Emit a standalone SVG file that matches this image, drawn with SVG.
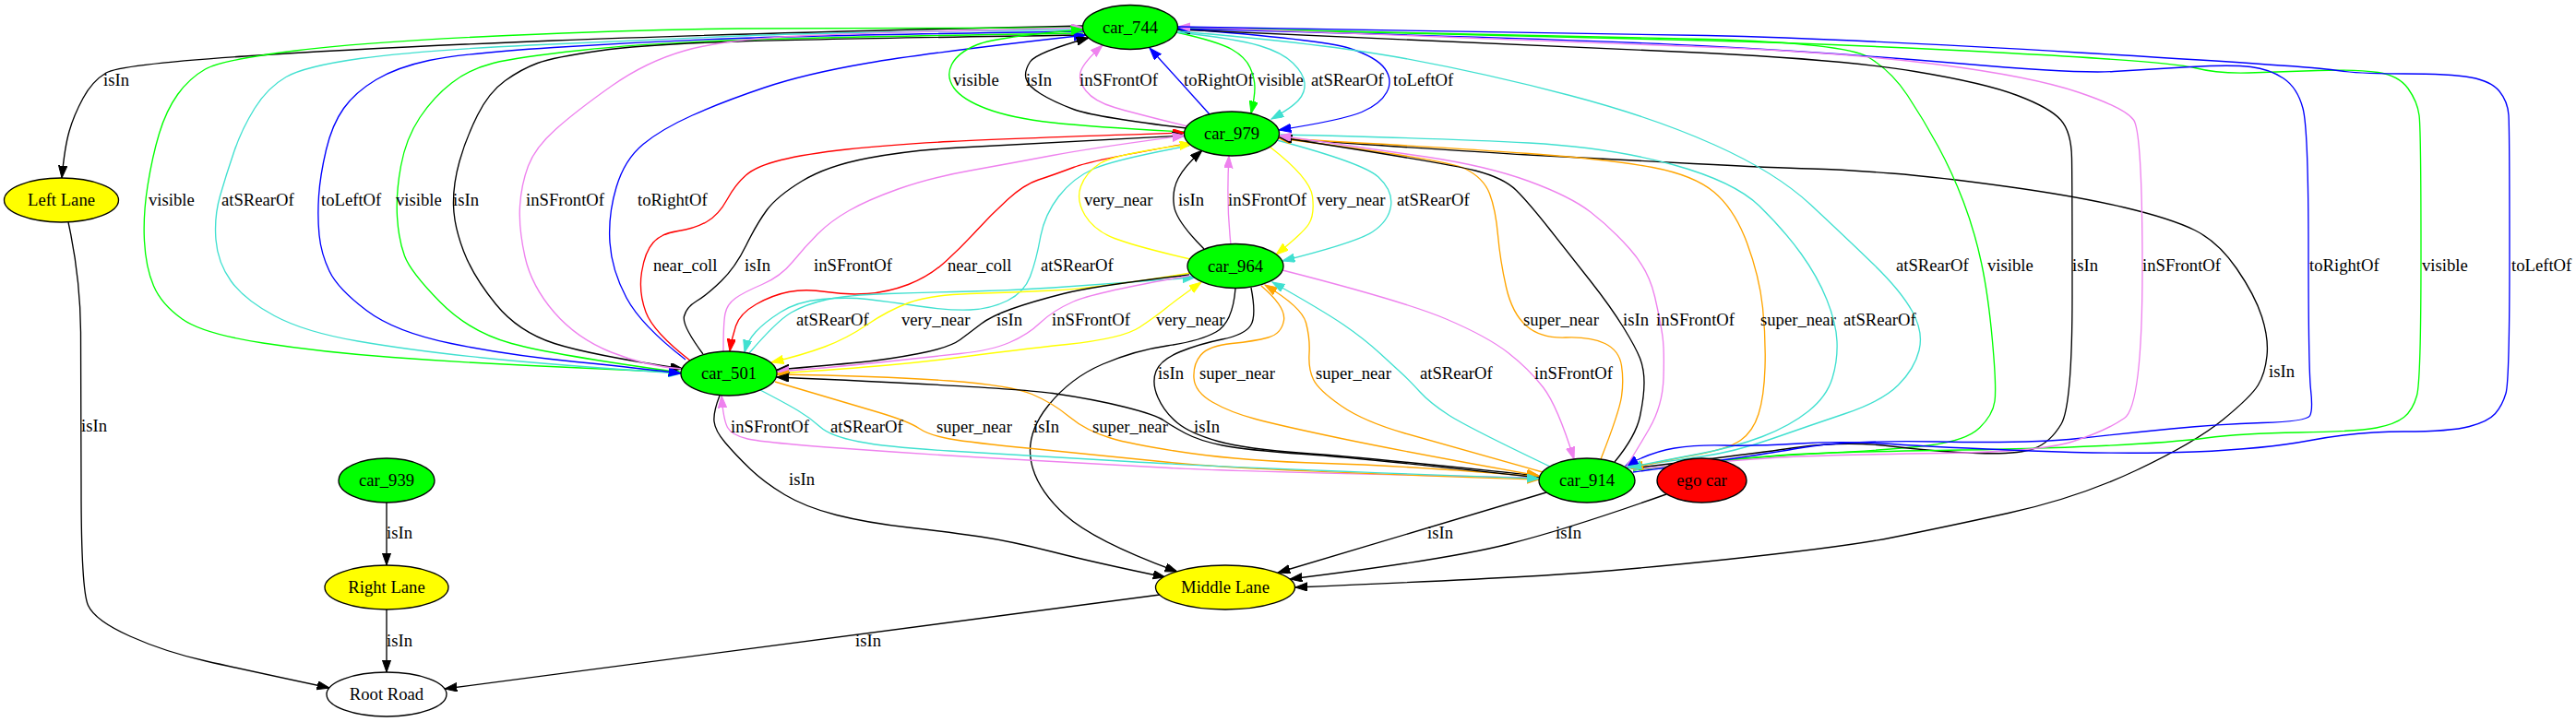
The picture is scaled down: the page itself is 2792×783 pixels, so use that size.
<svg xmlns="http://www.w3.org/2000/svg" width="2792" height="783" viewBox="0 0 2792 783">
<style>
.e{fill:none;stroke-width:1.35}
.k{stroke:#000;marker-end:url(#ak)}
.g{stroke:#0f0;marker-end:url(#ag)}
.c{stroke:#40e0d0;marker-end:url(#ac)}
.b{stroke:#00f;marker-end:url(#ab)}
.v{stroke:#ee82ee;marker-end:url(#av)}
.r{stroke:#f00;marker-end:url(#ar)}
.y{stroke:#ff0;marker-end:url(#ay)}
.o{stroke:#ffa500;marker-end:url(#ao)}
text{font-family:"Liberation Serif","Times New Roman",serif;font-size:18.67px;fill:#000}
.n ellipse{stroke:#000;stroke-width:1.35}
.n text{text-anchor:middle}
</style>
<defs>
<marker id="ak" viewBox="0 0 14 10" markerWidth="14" markerHeight="10" refX="13.3" refY="4.67" orient="auto" markerUnits="userSpaceOnUse"><path d="M0,0 L13.3,4.67 L0,9.33 z" fill="#000" stroke="#000"/></marker>
<marker id="ag" viewBox="0 0 14 10" markerWidth="14" markerHeight="10" refX="13.3" refY="4.67" orient="auto" markerUnits="userSpaceOnUse"><path d="M0,0 L13.3,4.67 L0,9.33 z" fill="#0f0" stroke="#0f0"/></marker>
<marker id="ac" viewBox="0 0 14 10" markerWidth="14" markerHeight="10" refX="13.3" refY="4.67" orient="auto" markerUnits="userSpaceOnUse"><path d="M0,0 L13.3,4.67 L0,9.33 z" fill="#40e0d0" stroke="#40e0d0"/></marker>
<marker id="ab" viewBox="0 0 14 10" markerWidth="14" markerHeight="10" refX="13.3" refY="4.67" orient="auto" markerUnits="userSpaceOnUse"><path d="M0,0 L13.3,4.67 L0,9.33 z" fill="#00f" stroke="#00f"/></marker>
<marker id="av" viewBox="0 0 14 10" markerWidth="14" markerHeight="10" refX="13.3" refY="4.67" orient="auto" markerUnits="userSpaceOnUse"><path d="M0,0 L13.3,4.67 L0,9.33 z" fill="#ee82ee" stroke="#ee82ee"/></marker>
<marker id="ar" viewBox="0 0 14 10" markerWidth="14" markerHeight="10" refX="13.3" refY="4.67" orient="auto" markerUnits="userSpaceOnUse"><path d="M0,0 L13.3,4.67 L0,9.33 z" fill="#f00" stroke="#f00"/></marker>
<marker id="ay" viewBox="0 0 14 10" markerWidth="14" markerHeight="10" refX="13.3" refY="4.67" orient="auto" markerUnits="userSpaceOnUse"><path d="M0,0 L13.3,4.67 L0,9.33 z" fill="#ff0" stroke="#ff0"/></marker>
<marker id="ao" viewBox="0 0 14 10" markerWidth="14" markerHeight="10" refX="13.3" refY="4.67" orient="auto" markerUnits="userSpaceOnUse"><path d="M0,0 L13.3,4.67 L0,9.33 z" fill="#ffa500" stroke="#ffa500"/></marker>
</defs>
<rect width="2792" height="783" fill="#fff"/>
<g id="edges">
<g id="e1"><path class="e k" d="M1174,28 Q800,36 600,44 Q400,52 265,61 Q130,70 115,79 Q100,88 90,106.5 Q80,125 75,142.5 Q70,160 67,193"/><text x="112" y="93">isIn</text></g>
<g id="e52"><path class="e k" d="M74,241 Q87,300 87.5,360 Q88,420 88,530 Q88,640 95.5,656.5 Q103,673 141,690 Q179,707 223.5,717 Q268,727 357,746"/><text x="88" y="468">isIn</text></g>
<g id="e53"><path class="e k" d="M419,545 L419,613"/><text x="419" y="584">isIn</text></g>
<g id="e54"><path class="e k" d="M419,661 L419,729"/><text x="419" y="701">isIn</text></g>
<g id="e51"><path class="e k" d="M1257,645 L482,747"/><text x="927" y="701">isIn</text></g>
<g id="e49"><path class="e k" d="M1676,534 L1385,621"/><text x="1547" y="584">isIn</text></g>
<g id="e50"><path class="e k" d="M1806,536 Q1702,573 1635,590 Q1568,607 1398,628"/><text x="1686" y="584">isIn</text></g>
<g id="e48"><path class="e k" d="M780,429 Q773,447 774,457 Q775,467 786,480 Q797,493 812.5,508 Q828,523 850.5,536.5 Q873,550 906.5,558.5 Q940,567 984.5,572 Q1029,577 1062.5,582 Q1096,587 1141,598.5 Q1186,610 1263,626"/><text x="855" y="526">isIn</text></g>
<g id="e37"><path class="e k" d="M1339,313 Q1336,350 1318,360 Q1300,370 1265,375 Q1230,380 1195,395 Q1160,410 1136,440 Q1112,470 1117.5,500 Q1123,530 1154.5,558.5 Q1186,587 1276,620"/><text x="1120" y="469">isIn</text></g>
<g id="e26"><path class="e k" d="M1386,150 Q1568,163 1657,168 Q1746,173 1835.5,177.5 Q1925,182 1962.5,183 Q2000,184 2050.5,188 Q2101,192 2176.5,202.5 Q2252,213 2302.5,225 Q2353,237 2378.5,249.5 Q2404,262 2424,291 Q2444,320 2451.5,343.5 Q2459,367 2457,386 Q2455,405 2447.5,417.5 Q2440,430 2409.5,455 Q2379,480 2315.5,510 Q2252,540 2176.5,556.5 Q2101,573 2050.5,583 Q2000,593 1873,606.5 Q1746,620 1657,625 Q1568,630 1404,637"/><text x="2459" y="409">isIn</text></g>
<g id="l1"><path class="e g" d="M1174,30 Q900,30 800,31 Q700,32 550,38.5 Q400,45 320,55 Q240,65 222.5,75 Q205,85 192.5,102.5 Q180,120 172.5,145 Q165,170 160,201.5 Q155,233 156.5,261.5 Q158,290 166.5,310 Q175,330 197.5,346 Q220,362 285,372 Q350,382 425,387.5 Q500,393 575,396.5 Q650,400 738,404"/><text x="161" y="223">visible</text></g>
<g id="l4"><path class="e g" d="M1174,36 Q900,40 800,43.5 Q700,47 630,54.5 Q560,62 534.5,68.5 Q509,75 489.5,90 Q470,105 455,127.5 Q440,150 434.5,180 Q429,210 430.5,235 Q432,260 438.5,277.5 Q445,295 477,327.5 Q509,360 554.5,372.5 Q600,385 738,404"/><text x="429" y="223">visible</text></g>
<g id="l5"><path class="e k" d="M1174,38 Q900,42 800,45 Q700,48 650,55 Q600,62 582.5,68.5 Q565,75 547.5,87.5 Q530,100 517.5,125 Q505,150 498,175 Q491,200 491.5,222.5 Q492,245 502.5,272.5 Q513,300 537.5,330 Q562,360 601,372.5 Q640,385 740,400"/><text x="491" y="223">isIn</text></g>
<g id="l2"><path class="e c" d="M1174,32 Q900,35 800,39 Q700,43 575,49 Q450,55 390,63.5 Q330,72 310,83.5 Q290,95 276,117.5 Q262,140 253.5,165 Q245,190 238.5,212.5 Q232,235 234,260 Q236,285 250.5,305 Q265,325 297.5,342.5 Q330,360 388,370 Q446,380 523,388 Q600,396 738,405"/><text x="240" y="223">atSRearOf</text></g>
<g id="l3"><path class="e b" d="M1174,34 Q900,38 800,41.5 Q700,45 600,51.5 Q500,58 465,65.5 Q430,73 407.5,86.5 Q385,100 372.5,117.5 Q360,135 353.5,162.5 Q347,190 345.5,212.5 Q344,235 346,255 Q348,275 357,294 Q366,313 397,336.5 Q428,360 489,372.5 Q550,385 625,392.5 Q700,400 738,405"/><text x="348" y="223">toLeftOf</text></g>
<g id="l7"><path class="e b" d="M743,390 Q695,353 679,323 Q663,293 661,263 Q659,233 668,203 Q677,173 697,156.5 Q717,140 750.5,125 Q784,110 828.5,95 Q873,80 940,68.5 Q1007,57 1177,38"/><text x="691" y="223">toRightOf</text></g>
<g id="l6"><path class="e v" d="M738,400 Q700,397 662.5,382 Q625,367 600.5,338.5 Q576,310 569,278.5 Q562,247 563.5,223.5 Q565,200 572.5,180 Q580,160 602.5,140 Q625,120 662.5,93.5 Q700,67 742,55 Q784,43 867,39 Q950,35 1174,30"/><text x="570" y="223">inSFrontOf</text></g>
<g id="e9"><path class="e g" d="M1284,143 Q1186,138 1141,133 Q1096,128 1069.5,118 Q1043,108 1034,95.5 Q1025,83 1031.5,70 Q1038,57 1059,48.5 Q1080,40 1174,32"/><text x="1033" y="93">visible</text></g>
<g id="e10"><path class="e k" d="M1286,139 Q1186,127 1163.5,118.5 Q1141,110 1127.5,101.5 Q1114,93 1112,85 Q1110,77 1116.5,67 Q1123,57 1180,41"/><text x="1112" y="93">isIn</text></g>
<g id="e11"><path class="e v" d="M1287,137 Q1230,123 1208,116.5 Q1186,110 1177,98.5 Q1168,87 1171.5,77 Q1175,67 1195,49"/><text x="1170" y="93">inSFrontOf</text></g>
<g id="e12"><path class="e b" d="M1311,124 L1246,52"/><text x="1283" y="93">toRightOf</text></g>
<g id="e13"><path class="e g" d="M1275,35 Q1320,45 1335,53.5 Q1350,62 1355,73.5 Q1360,85 1360,95 Q1360,105 1356,123"/><text x="1363" y="93">visible</text></g>
<g id="e14"><path class="e c" d="M1276,35 Q1340,42 1365,49.5 Q1390,57 1401.5,68.5 Q1413,80 1414,90 Q1415,100 1407.5,108.5 Q1400,117 1378,129"/><text x="1421" y="93">atSRearOf</text></g>
<g id="e15"><path class="e b" d="M1277,31 Q1434,43 1463,52.5 Q1492,62 1501,74.5 Q1510,87 1503,100 Q1496,113 1476,121.5 Q1456,130 1386,141"/><text x="1510" y="93">toLeftOf</text></g>
<g id="r2"><path class="e g" d="M1770,510 Q1900,495 1975,491.5 Q2050,488 2090.5,483 Q2131,478 2145.5,464 Q2160,450 2162,435 Q2164,420 2159.5,370 Q2155,320 2147.5,285 Q2140,250 2128,218.5 Q2116,187 2100.5,158.5 Q2085,130 2067.5,103.5 Q2050,77 2025,62 Q2000,47 1850,42.5 Q1700,38 1277,30"/><text x="2154" y="294">visible</text></g>
<g id="r3"><path class="e k" d="M1768,508 Q1900,492 1950,485 Q2000,478 2050,484 Q2100,490 2143.5,491.5 Q2187,493 2204.5,486.5 Q2222,480 2234,460 Q2246,440 2246,320 Q2246,200 2245.5,171.5 Q2245,143 2233.5,130 Q2222,117 2186.5,103.5 Q2151,90 2075.5,77.5 Q2000,65 1850,57.5 Q1700,50 1277,32"/><text x="2246" y="294">isIn</text></g>
<g id="r6"><path class="e g" d="M1770,510 Q1900,495 1950,492.5 Q2000,490 2101,488.5 Q2202,487 2277.5,483.5 Q2353,480 2391,475 Q2429,470 2492,469 Q2555,468 2575.5,464 Q2596,460 2605.5,452.5 Q2615,445 2619.5,429 Q2624,413 2624,276.5 Q2624,140 2622,125 Q2620,110 2610,96 Q2600,82 2577.5,78.5 Q2555,75 2512.5,76.5 Q2470,78 2437,79 Q2404,80 2378.5,73.5 Q2353,67 2176.5,57.5 Q2000,48 1850,44 Q1700,40 1277,30"/><text x="2625" y="294">visible</text></g>
<g id="r5"><path class="e b" d="M1770,512 Q1900,495 1950,486 Q2000,477 2101,479 Q2202,481 2252.5,475.5 Q2303,470 2353.5,465 Q2404,460 2452,458.5 Q2500,457 2503.5,451 Q2507,445 2504.5,422.5 Q2502,400 2502,270 Q2502,140 2496,117.5 Q2490,95 2475,85 Q2460,75 2439.5,72.5 Q2419,70 2374.5,72.5 Q2330,75 2291,77.5 Q2252,80 2126,69 Q2000,58 1850,50 Q1700,42 1277,31"/><text x="2503" y="294">toRightOf</text></g>
<g id="r4"><path class="e v" d="M1770,509 Q1900,497 1950,495 Q2000,493 2106,491.5 Q2212,490 2247.5,478.5 Q2283,467 2302.5,453.5 Q2322,440 2322,291.5 Q2322,143 2312.5,130 Q2303,117 2252.5,100 Q2202,83 2101,70 Q2000,57 1850,51 Q1700,45 1277,29"/><text x="2322" y="294">inSFrontOf</text></g>
<g id="r1"><path class="e c" d="M1277,34 Q1434,47 1523,63.5 Q1612,80 1701.5,103.5 Q1791,127 1858,157 Q1925,187 1962.5,222 Q2000,257 2030,286 Q2060,315 2072.5,337.5 Q2085,360 2080,380 Q2075,400 2057.5,417.5 Q2040,435 2000,448.5 Q1960,462 1920,476 Q1880,490 1845,495 Q1810,500 1762,507"/><text x="2055" y="294">atSRearOf</text></g>
<g id="e30"><path class="e o" d="M1386,150 Q1568,160 1657,166.5 Q1746,173 1791,181.5 Q1836,190 1858,208.5 Q1880,227 1893.5,263.5 Q1907,300 1910.5,333.5 Q1914,367 1913,398.5 Q1912,430 1906,449 Q1900,468 1886.5,477.5 Q1873,487 1836.5,493.5 Q1800,500 1768,508"/><text x="1908" y="353">super_near</text></g>
<g id="e31"><path class="e c" d="M1388,146 Q1568,150 1657,155 Q1746,160 1813,178.5 Q1880,197 1907,223.5 Q1934,250 1952,275 Q1970,300 1980,325 Q1990,350 1991,370 Q1992,390 1986,410 Q1980,430 1960,446 Q1940,462 1910,473.5 Q1880,485 1840,492.5 Q1800,500 1766,507"/><text x="1998" y="353">atSRearOf</text></g>
<g id="r7"><path class="e b" d="M1277,29 Q1700,35 1850,38.5 Q2000,42 2252.5,57 Q2505,72 2530,76 Q2555,80 2605.5,80 Q2656,80 2678,84 Q2700,88 2709,99 Q2718,110 2719,125 Q2720,140 2720,276.5 Q2720,413 2716,426.5 Q2712,440 2704.5,448.5 Q2697,457 2676.5,462.5 Q2656,468 2605.5,468 Q2555,468 2504.5,477.5 Q2454,487 2378.5,490 Q2303,493 2201.5,489 Q2100,485 2050,481.5 Q2000,478 1950,481 Q1900,484 1870,483 Q1840,482 1815,486 Q1790,490 1762,505"/><text x="2722" y="294">toLeftOf</text></g>
<g id="e16"><path class="e r" d="M748,391 Q708,360 700,338.5 Q692,317 695.5,295 Q699,273 708,263 Q717,253 735,250.5 Q753,248 766,240.5 Q779,233 788,216.5 Q797,200 808.5,190 Q820,180 846.5,173.5 Q873,167 917.5,162 Q962,157 1029,153.5 Q1096,150 1284,144"/><text x="708" y="294">near_coll</text></g>
<g id="e17"><path class="e k" d="M762,384 Q739,353 741.5,343 Q744,333 755,326.5 Q766,320 781.5,305 Q797,290 808.5,266.5 Q820,243 831,228 Q842,213 869,196.5 Q896,180 940.5,171.5 Q985,163 1040.5,160 Q1096,157 1284,147"/><text x="807" y="294">isIn</text></g>
<g id="e20"><path class="e c" d="M1289,158 Q1208,173 1185.5,183 Q1163,193 1147.5,213 Q1132,233 1127.5,258 Q1123,283 1116.5,300 Q1110,317 1092,326 Q1074,335 1051.5,336 Q1029,337 995.5,332 Q962,327 940,324.5 Q918,322 891,324.5 Q864,327 846,338.5 Q828,350 819,360 Q810,370 807,382"/><text x="1128" y="294">atSRearOf</text></g>
<g id="e19"><path class="e r" d="M1286,156 Q1186,173 1163.5,181.5 Q1141,190 1125.5,195 Q1110,200 1092,216.5 Q1074,233 1058.5,250 Q1043,267 1025,283.5 Q1007,300 984.5,308.5 Q962,317 940,318.5 Q918,320 895.5,316.5 Q873,313 855,316.5 Q837,320 819.5,330 Q802,340 797.5,353.5 Q793,367 791,381"/><text x="1027" y="294">near_coll</text></g>
<g id="e18"><path class="e v" d="M784,381 Q784,350 786,340 Q788,330 797,323.5 Q806,317 826,308.5 Q846,300 859.5,283.5 Q873,267 886.5,253.5 Q900,240 920,228.5 Q940,217 973.5,205 Q1007,193 1051.5,185 Q1096,177 1141,168.5 Q1186,160 1284,147"/><text x="882" y="294">inSFrontOf</text></g>
<g id="e21"><path class="e y" d="M1290,281 Q1230,267 1208,258.5 Q1186,250 1176,233.5 Q1166,217 1171.5,202 Q1177,187 1192.5,177 Q1208,167 1292,156"/><text x="1175" y="223">very_near</text></g>
<g id="e22"><path class="e k" d="M1305,270 Q1275,240 1272.5,223.5 Q1270,207 1277,193.5 Q1284,180 1303,163"/><text x="1277" y="223">isIn</text></g>
<g id="e23"><path class="e v" d="M1334,265 Q1329,220 1332,169"/><text x="1331" y="223">inSFrontOf</text></g>
<g id="e24"><path class="e y" d="M1376,159 Q1420,193 1422.5,213 Q1425,233 1418.5,243 Q1412,253 1383,276"/><text x="1427" y="223">very_near</text></g>
<g id="e25"><path class="e c" d="M1384,152 Q1478,177 1494,192 Q1510,207 1507.5,223.5 Q1505,240 1487.5,251.5 Q1470,263 1390,283"/><text x="1514" y="223">atSRearOf</text></g>
<g id="e27"><path class="e o" d="M1735,498 Q1755,447 1757.5,430 Q1760,413 1757.5,396.5 Q1755,380 1739.5,372.5 Q1724,365 1697,366 Q1670,367 1654.5,353.5 Q1639,340 1632.5,311.5 Q1626,283 1623.5,255 Q1621,227 1614.5,210 Q1608,193 1588,183 Q1568,173 1386,150"/><text x="1651" y="353">super_near</text></g>
<g id="e28"><path class="e k" d="M1750,501 Q1773,473 1777.5,451.5 Q1782,430 1782,415 Q1782,400 1777.5,388.5 Q1773,377 1759.5,355 Q1746,333 1724,305 Q1702,277 1679.5,248.5 Q1657,220 1643.5,206.5 Q1630,193 1599,185 Q1568,177 1387,149"/><text x="1759" y="353">isIn</text></g>
<g id="e29"><path class="e v" d="M1762,507 Q1773,490 1787.5,465 Q1802,440 1803,410 Q1804,380 1802,365 Q1800,350 1793.5,321.5 Q1787,293 1766.5,270 Q1746,247 1724,230 Q1702,213 1657,196.5 Q1612,180 1545,170 Q1478,160 1386,147"/><text x="1795" y="353">inSFrontOf</text></g>
<g id="e32"><path class="e c" d="M812,383 Q842,348 857.5,339 Q873,330 895.5,325 Q918,320 962.5,318.5 Q1007,317 1051.5,316 Q1096,315 1141,312 Q1186,309 1295,301"/><text x="863" y="353">atSRearOf</text></g>
<g id="e33"><path class="e y" d="M1290,296 Q1186,313 1141,315 Q1096,317 1051.5,318.5 Q1007,320 984.5,328.5 Q962,337 940,352 Q918,367 894,376 Q870,385 836,393"/><text x="977" y="353">very_near</text></g>
<g id="e34"><path class="e k" d="M1289,298 Q1186,310 1152.5,318.5 Q1119,327 1096.5,335 Q1074,343 1063,351.5 Q1052,360 1040.5,368.5 Q1029,377 995.5,383.5 Q962,390 931,393 Q900,396 842,401"/><text x="1080" y="353">isIn</text></g>
<g id="e35"><path class="e v" d="M1289,299 Q1186,317 1163.5,327 Q1141,337 1127.5,350 Q1114,363 1094,371.5 Q1074,380 1040.5,383.5 Q1007,387 962.5,392 Q918,397 842,403"/><text x="1140" y="353">inSFrontOf</text></g>
<g id="e36"><path class="e y" d="M842,405 Q918,400 962.5,396 Q1007,392 1051.5,386 Q1096,380 1156.5,373.5 Q1217,367 1235,355 Q1253,343 1264,334 Q1275,325 1302,306"/><text x="1253" y="353">very_near</text></g>
<g id="e38"><path class="e k" d="M1356,312 Q1362,343 1355.5,353 Q1349,363 1324.5,368 Q1300,373 1279,381.5 Q1258,390 1253,402.5 Q1248,415 1255,431 Q1262,447 1276,458.5 Q1290,470 1320,478.5 Q1350,487 1414,491.5 Q1478,496 1668,516"/><text x="1255" y="411">isIn</text></g>
<g id="e39"><path class="e o" d="M1367,310 Q1394,333 1391.5,347.5 Q1389,362 1374.5,366 Q1360,370 1335,372.5 Q1310,375 1301.5,385 Q1293,395 1294,410 Q1295,425 1314,436 Q1333,447 1361,454.5 Q1389,462 1456,476 Q1523,490 1668,516"/><text x="1300" y="411">super_near</text></g>
<g id="e40"><path class="e o" d="M1672,512 Q1568,483 1523,470 Q1478,457 1453.5,440 Q1429,423 1423.5,411.5 Q1418,400 1419,383.5 Q1420,367 1415.5,350 Q1411,333 1371,309"/><text x="1426" y="411">super_near</text></g>
<g id="e41"><path class="e c" d="M1680,506 Q1590,463 1570,450 Q1550,437 1539,425 Q1528,413 1521,406.5 Q1514,400 1496,383.5 Q1478,367 1456,352 Q1434,337 1379,306"/><text x="1539" y="411">atSRearOf</text></g>
<g id="e42"><path class="e v" d="M1390,293 Q1523,327 1567.5,346 Q1612,365 1634.5,382.5 Q1657,400 1672.5,420 Q1688,440 1706,498"/><text x="1663" y="411">inSFrontOf</text></g>
<g id="e43"><path class="e v" d="M1668,518 Q1350,512 1268,507.5 Q1186,503 1096.5,498 Q1007,493 917.5,486.5 Q828,480 810.5,476 Q793,472 788.5,463.5 Q784,455 782,429"/><text x="792" y="469">inSFrontOf</text></g>
<g id="e46"><path class="e o" d="M1668,517 Q1523,505 1436.5,502.5 Q1350,500 1290,491.5 Q1230,483 1203.5,475 Q1177,467 1159,452 Q1141,437 1118.5,427.5 Q1096,418 1029,413 Q962,408 842,406"/><text x="1184" y="469">super_near</text></g>
<g id="e47"><path class="e k" d="M1668,518 Q1478,497 1414,492.5 Q1350,488 1325,483 Q1300,478 1285,470 Q1270,462 1261.5,456 Q1253,450 1219.5,441.5 Q1186,433 1141,426.5 Q1096,420 842,409"/><text x="1294" y="469">isIn</text></g>
<g id="e45"><path class="e o" d="M840,414 Q918,437 951.5,447 Q985,457 996,464.5 Q1007,472 1029.5,476 Q1052,480 1119,486.5 Q1186,493 1268,501.5 Q1350,510 1668,520"/><text x="1015" y="469">super_near</text></g>
<g id="e44"><path class="e c" d="M824,423 Q851,437 864.5,445 Q878,453 889,463 Q900,473 931,479 Q962,485 1029,489 Q1096,493 1223,500.5 Q1350,508 1668,519"/><text x="900" y="469">atSRearOf</text></g>
</g>
<g id="car_744" class="n"><ellipse cx="1225" cy="29.5" rx="51.5" ry="24" fill="#0f0"/><text x="1225" y="35.5">car_744</text></g>
<g id="car_979" class="n"><ellipse cx="1335" cy="145" rx="51.5" ry="24" fill="#0f0"/><text x="1335" y="151">car_979</text></g>
<g id="car_964" class="n"><ellipse cx="1339" cy="288.5" rx="52" ry="24" fill="#0f0"/><text x="1339" y="294.5">car_964</text></g>
<g id="car_501" class="n"><ellipse cx="790" cy="405" rx="52" ry="24" fill="#0f0"/><text x="790" y="411">car_501</text></g>
<g id="car_914" class="n"><ellipse cx="1720" cy="521" rx="52" ry="24" fill="#0f0"/><text x="1720" y="527">car_914</text></g>
<g id="ego_car" class="n"><ellipse cx="1844.5" cy="521" rx="48.5" ry="24" fill="#f00"/><text x="1844.5" y="527">ego car</text></g>
<g id="car_939" class="n"><ellipse cx="419" cy="521" rx="52" ry="24" fill="#0f0"/><text x="419" y="527">car_939</text></g>
<g id="middle_lane" class="n"><ellipse cx="1328" cy="637" rx="75.5" ry="24" fill="#ff0"/><text x="1328" y="643">Middle Lane</text></g>
<g id="right_lane" class="n"><ellipse cx="419" cy="637" rx="67" ry="24" fill="#ff0"/><text x="419" y="643">Right Lane</text></g>
<g id="left_lane" class="n"><ellipse cx="66.5" cy="217" rx="62" ry="24" fill="#ff0"/><text x="66.5" y="223">Left Lane</text></g>
<g id="root_road" class="n"><ellipse cx="419" cy="753" rx="65" ry="24" fill="#fff"/><text x="419" y="759">Root Road</text></g>
</svg>
